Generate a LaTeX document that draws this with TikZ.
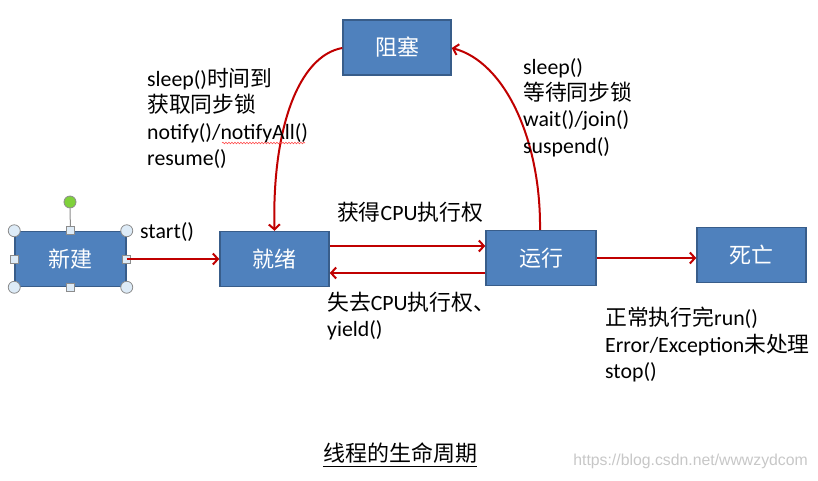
\documentclass[tikz,border=0pt]{standalone}
\usepackage{fontspec}
\setmainfont{Carlito}
\newfontfamily\cjk{Noto Sans CJK SC}
\newfontfamily\wmfont{Liberation Sans}
\usetikzlibrary{arrows.meta,decorations.pathmorphing}
\definecolor{boxblue}{HTML}{4F81BD}
\definecolor{boxedge}{HTML}{385D8A}
\definecolor{arrred}{HTML}{C00000}
\definecolor{handlefill}{HTML}{DDEBF7}
\definecolor{handleedge}{HTML}{8C8C8C}
\definecolor{greenh}{HTML}{7FD13B}
\tikzset{
  statebox/.style={draw=boxedge, line width=1.5pt, fill=boxblue, text=white,
    minimum width=109pt, minimum height=55pt, inner sep=0pt,
    font=\cjk\fontsize{22}{26}\selectfont},
  arr/.style={draw=arrred, line width=2pt, -{Straight Barb[length=5pt,width=11pt,line width=2pt]}},
  lbl/.style={inner sep=0pt, align=left, text=black, font=\fontsize{21.8}{26.4}\selectfont},
  rh/.style={circle, draw=handleedge, fill=handlefill, line width=0.8pt, minimum size=12pt, inner sep=0pt},
  sh/.style={rectangle, draw=handleedge, fill=handlefill, line width=0.8pt, minimum size=8pt, inner sep=0pt},
}
\begin{document}
\begin{tikzpicture}[x=1pt,y=-1pt]
\useasboundingbox (0,0) rectangle (818,480);
% state boxes
\node[statebox, minimum width=111pt] (xj) at (70.5,259) {新建};
\node[statebox] (jx) at (274.5,259) {就绪};
\node[statebox, minimum width=110pt] (yx) at (541,258) {运行};
\node[statebox] (sw) at (751.5,255) {死亡};
\node[statebox, minimum width=108pt] (zs) at (397,47.5) {阻塞};
% selection handles on 新建
\node[rh] (g) at (70,202) [fill=greenh] {};
\draw[handleedge, line width=1pt] (g.south) -- (xj.north);
\node[rh] (h1) at (xj.north west) {};
\node[rh] (h2) at (xj.north east) {};
\node[rh] (h3) at (xj.south west) {};
\node[rh] (h4) at (xj.south east) {};
\node[sh] (h5) at (xj.north) {};
\node[sh] (h6) at (xj.south) {};
\node[sh] (h7) at (xj.west) {};
\node[sh] (h8) at (xj.east) {};
% connectors
\draw[arr] (xj.east) -- (jx.west);
\draw[arr] (jx.east |- 0,246) -- (yx.west |- 0,246);
\draw[arr] (yx.west |- 0,273) -- (jx.east |- 0,273);
\draw[arr] (yx.east) -- (sw.west |- yx.east);
\coordinate (zsl) at ([yshift=-0.5pt]zs.west);
\coordinate (zsr) at ([yshift=-0.5pt]zs.east);
\draw[arr] (zsl) .. controls (298,56) and (272,130) .. (jx.north);
\draw[arr] ([xshift=-1pt]yx.north) .. controls (541,140) and (505,62) .. (zsr);
% labels
\node[lbl, anchor=north west] (l1) at (147,68) {sleep(){\cjk 时间到}\\{\cjk 获取同步锁}\\notify()/notifyAll()\\resume()};
\draw[red!70, line width=0.6pt, decorate, decoration={snake, segment length=3pt, amplitude=0.8pt}] (222,143) -- (305,143);
\node[lbl, anchor=north west] (l2) at (523,58) {sleep()\\{\cjk 等待同步锁}\\wait()/join()\\suspend()};
\node[lbl, anchor=north west] (l3) at (140,222) {start()};
\node[lbl, anchor=north] (l4) at (410,202) {{\cjk 获得}CPU{\cjk 执行权}};
\node[lbl, anchor=north west] (l5) at (327,292) {{\cjk 失去}CPU{\cjk 执行权、}\\yield()};
\node[lbl, anchor=north west] (l6) at (605,307) {{\cjk 正常执行完}run()\\Error/Exception{\cjk 未处理}\\stop()};
\node[lbl, anchor=center, font=\cjk\fontsize{22}{26}\selectfont] (title) at (400,453) {线程的生命周期};
\draw[black, line width=1pt] ([yshift=-3pt]title.south west) -- ([yshift=-3pt]title.south east);
\node[inner sep=0pt, text=black!22, font=\wmfont\fontsize{15.8}{19}\selectfont, anchor=east] (wm) at (808,461) {https://blog.csdn.net/wwwzydcom};
\end{tikzpicture}
\end{document}
